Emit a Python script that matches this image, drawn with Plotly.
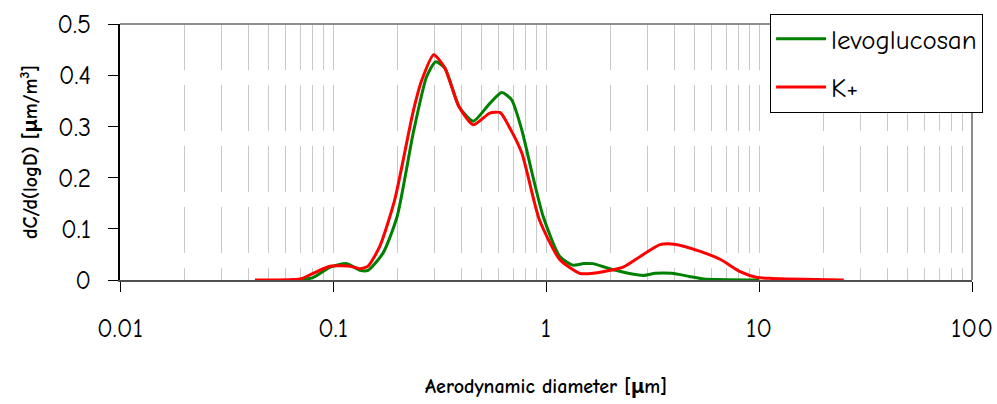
import plotly.graph_objects as go

# levoglucosan (green)
levo_d = [0.063, 0.08, 0.097, 0.116, 0.134, 0.146, 0.172, 0.2, 0.238, 0.275, 0.303, 0.335,
          0.39, 0.455, 0.545, 0.62, 0.69, 0.77, 0.86, 0.97, 1.16, 1.34, 1.5, 1.66, 2.07,
          2.86, 3.25, 3.9, 4.7, 5.5, 10.0]
levo_v = [0.0, 0.004, 0.025, 0.032, 0.019, 0.019, 0.053, 0.124, 0.287, 0.397, 0.426, 0.414,
          0.339, 0.31, 0.345, 0.366, 0.352, 0.293, 0.209, 0.124, 0.046, 0.029, 0.032, 0.032, 0.02,
          0.009, 0.013, 0.013, 0.007, 0.002, 0.0]

# K+ (red)
k_d = [0.043, 0.07, 0.078, 0.089, 0.097, 0.12, 0.134, 0.146, 0.166, 0.195, 0.237, 0.26,
       0.297, 0.335, 0.39, 0.455, 0.545, 0.61, 0.67, 0.77, 0.93, 1.16, 1.44, 1.66, 2.3,
       2.77, 3.43, 4.0, 5.3, 6.6, 8.1, 9.8, 11.5, 25.0]
k_v = [0.0, 0.002, 0.01, 0.021, 0.027, 0.027, 0.022, 0.027, 0.066, 0.157, 0.326, 0.388,
       0.44, 0.414, 0.339, 0.303, 0.326, 0.327, 0.30, 0.248, 0.118, 0.04, 0.013, 0.013, 0.025,
       0.046, 0.069, 0.07, 0.056, 0.04, 0.017, 0.005, 0.003, 0.0]

x_tickvals = [0.01, 0.1, 1, 10, 100]
x_ticktext = ["0.01", "0.1", "1", "10", "100"]

FONT = "Comic Sans MS, Comic Neue, Noto Sans, sans-serif"
GRID = "#c8c8c8"
DASH = "46px,15px"

fig = go.Figure()
fig.add_trace(go.Scatter(x=levo_d, y=levo_v, mode="lines", name="levoglucosan",
                         line=dict(color="#008000", width=3, shape="spline", smoothing=0.6),
                         legendgroup="a"))
fig.add_trace(go.Scatter(x=k_d, y=k_v, mode="lines", name="K+",
                         line=dict(color="#ff0000", width=3, shape="spline", smoothing=0.6),
                         legendgroup="b"))

fig.update_layout(
    width=997, height=404,
    margin=dict(l=120, r=25, t=24, b=124, autoexpand=False),
    paper_bgcolor="white", plot_bgcolor="white",
    font=dict(family=FONT, size=26, color="black"),
    showlegend=True,
    legend=dict(x=0.763, y=1.04, xanchor="left", yanchor="top",
                bordercolor="black", borderwidth=1, bgcolor="white",
                font=dict(size=27), tracegroupgap=10, itemwidth=50),
    xaxis=dict(type="log", range=[-2, 2], automargin=False,
               tickvals=x_tickvals, ticktext=x_ticktext,
               ticks="outside", ticklen=10, tickcolor="black", tickwidth=1,
               showline=True, linecolor="#505050", linewidth=2,
               showgrid=True, gridcolor=GRID, gridwidth=1, griddash=DASH,
               minor=dict(dtick="D1", showgrid=True, gridcolor=GRID, gridwidth=1, griddash=DASH),
               ticklabelstandoff=14, zeroline=False,
               title=dict(text="<b>Aerodynamic diameter [μm]</b>", font=dict(size=20), standoff=36)),
    yaxis=dict(range=[0, 0.5], dtick=0.1, showgrid=False, zeroline=False, automargin=False,
               ticks="outside", ticklen=10, tickcolor="black",
               showline=True, linecolor="black", linewidth=1.5,
               ticklabelstandoff=12,
               title=dict(text="<b>dC/d(logD) [μm/m<sup>3</sup>]</b>", font=dict(size=20), standoff=14)),
)

# top and right frame lines (gray)
fig.add_shape(type="line", xref="paper", yref="paper", x0=0, x1=1, y0=1, y1=1,
              line=dict(color="#8c8c8c", width=2))
fig.add_shape(type="line", xref="paper", yref="paper", x0=1, x1=1, y0=0, y1=1,
              line=dict(color="#8c8c8c", width=2))

fig.write_html("out.html")
